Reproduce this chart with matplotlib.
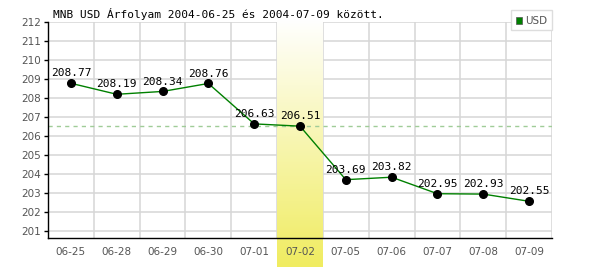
import numpy as np
import matplotlib.pyplot as plt
from matplotlib.colors import LinearSegmentedColormap

dates = ["06-25", "06-28", "06-29", "06-30", "07-01", "07-02",
         "07-05", "07-06", "07-07", "07-08", "07-09"]
usd = [208.77, 208.19, 208.34, 208.76, 206.63, 206.51,
       203.69, 203.82, 202.95, 202.93, 202.55]
highlight = 5  # 07-02
yticks = list(range(201, 213))

fig = plt.figure(figsize=(6, 2.7), dpi=100)
ax = fig.add_axes([48 / 600, 1 - 238.3 / 270, 504 / 600, 216.3 / 270])

x = np.arange(len(dates))
ymin, ymax = 200.6, 212

# highlighted day column: white at top to yellow at bottom, reaching below axis
cmap = LinearSegmentedColormap.from_list("hl", ["#ffffff", "#f0ec60"])
grad = np.linspace(0, 1, 256).reshape(-1, 1)
px = (ymax - ymin) / 216.3
ax.imshow(grad, cmap=cmap, aspect="auto", origin="upper",
          extent=(highlight - 0.5, highlight + 0.5, ymin - 29 * px, ymax + 2 * px),
          clip_on=False, zorder=0.5)

ax.set_xlim(-0.5, len(dates) - 0.5)
ax.set_ylim(ymin, ymax)

# grid
for b in np.arange(0.5, len(dates) - 0.5, 1):
    ax.axvline(b, color="#d6d6d6", lw=1.1, zorder=0.3)
ax.axvline(len(dates) - 0.5, color="#d6d6d6", lw=1.1, zorder=0.3)
for t in yticks:
    ax.axhline(t, color="#d6d6d6", lw=1.1, zorder=0.3)

ax.axhline(usd[highlight], color="#a0cc98", lw=1, ls=(0, (3, 3)), zorder=2)

ax.plot(x, usd, color="#008000", lw=1, zorder=4)
ax.plot(x, usd, "o", color="black", ms=5.5, zorder=5)
for xi, v in zip(x, usd):
    ax.annotate(f"{v:.2f}", (xi, v), xytext=(0, 3.5), textcoords="offset points",
                ha="center", va="bottom", fontsize=8, family="DejaVu Sans Mono",
                color="black", zorder=6)

ax.set_xticks(x)
ax.set_xticklabels(dates)
ax.set_yticks(yticks)
ax.tick_params(axis="x", length=0, pad=6, labelsize=7.5, labelcolor="#555555")
ax.tick_params(axis="y", length=3, width=1, pad=2, labelsize=7.5, labelcolor="#555555")
for s in ["top", "right"]:
    ax.spines[s].set_visible(False)
for s in ["left", "bottom"]:
    ax.spines[s].set_color("black")
    ax.spines[s].set_linewidth(1)
    ax.spines[s].set_zorder(7)

fig.text(53 / 600, 1 - 14 / 270, "MNB USD Árfolyam 2004-06-25 és 2004-07-09 között.",
         fontsize=8, family="DejaVu Sans Mono", va="center", ha="left")

# legend box
fig.patches.append(plt.Rectangle((511 / 600, 1 - 30 / 270), 41 / 600, 20 / 270,
                                 transform=fig.transFigure, facecolor="white",
                                 edgecolor="#dddddd", lw=1))
fig.patches.append(plt.Rectangle((516 / 600, 1 - 23.5 / 270), 6 / 600, 6 / 270,
                                 transform=fig.transFigure, facecolor="#008000",
                                 edgecolor="#555555", lw=0.5))
fig.text(525 / 600, 1 - 20.5 / 270, "USD", fontsize=7.5, color="#555555", va="center")

fig.savefig("out.png", dpi=100)
